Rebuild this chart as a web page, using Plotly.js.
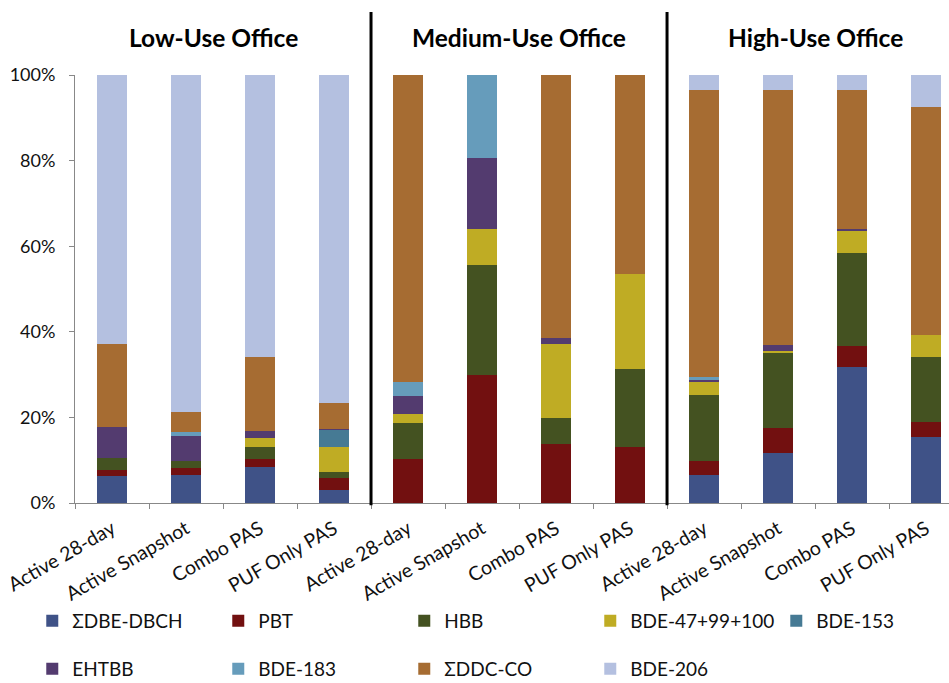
<!DOCTYPE html>
<html>
<head>
<meta charset="utf-8">
<script src="https://cdn.plot.ly/plotly-3.0.1.min.js"></script>
<style>html,body{margin:0;padding:0;overflow:hidden;background:#fff;}</style>
</head>
<body>
<div id="chart" style="width:949px;height:683px;"></div>
<script>
// ---- data ----
const groups = ["Low-Use Office", "Medium-Use Office", "High-Use Office"];
const methods = ["Active 28-day", "Active Snapshot", "Combo PAS", "PUF Only PAS"];

const seriesNames = ["ΣDBE-DBCH", "PBT", "HBB", "BDE-47+99+100", "BDE-153",
                     "EHTBB", "BDE-183", "ΣDDC-CO", "BDE-206"];

// percent of total, 12 bars: Low(4), Medium(4), High(4)
const dbeDbch   = [6.3, 6.5, 8.4, 3.0,   0, 0, 0, 0,          6.5, 11.7, 31.8, 15.4];
const pbt       = [1.4, 1.7, 1.9, 2.8,   10.3, 29.8, 13.8, 13.0, 3.2, 5.9, 4.8, 3.5];
const hbb       = [2.9, 1.5, 2.8, 1.5,   8.5, 25.9, 6.1, 18.3,  15.6, 17.5, 21.9, 15.1];
const bde47     = [0, 0, 2.0, 5.8,       2.1, 8.4, 17.2, 22.1,  3.0, 0.4, 5.1, 5.3];
const bde153    = [0, 0, 0, 4.0,         0, 0, 0, 0,            0, 0, 0, 0];
const ehtbb     = [7.2, 6.0, 1.7, 0.3,   4.0, 16.4, 1.5, 0,     0.4, 1.4, 0.4, 0];
const bde183    = [0, 0.9, 0, 0,         3.4, 19.5, 0, 0,       0.7, 0, 0, 0];
const ddcCo     = [19.3, 4.7, 17.3, 6.0, 71.7, 0, 61.4, 46.6,   67.0, 59.5, 32.4, 53.2];
const bde206    = [62.9, 78.7, 65.9, 76.6, 0, 0, 0, 0,          3.6, 3.6, 3.6, 7.5];

const seriesValues = [dbeDbch, pbt, hbb, bde47, bde153, ehtbb, bde183, ddcCo, bde206];
const colors = ["#3F5287", "#721010", "#445221", "#BFAC24", "#467A94",
                "#533B6F", "#669CBB", "#A66C32", "#B4C0E0"];
// which legend row/block each series is shown in
const legendIds = ["legend", "legend", "legend", "legend", "legend3",
                   "legend2", "legend2", "legend2", "legend2"];

// ---- build ----
const FONT = "Lato, 'Open Sans', sans-serif";
const xKeys = [], xLabels = [];
groups.forEach(g => methods.forEach(m => { xKeys.push(g + "|" + m); xLabels.push(m); }));

const traces = seriesNames.map((name, i) => ({
  type: "bar",
  name: name,
  x: xKeys,
  y: seriesValues[i],
  width: 0.4,
  marker: { color: colors[i], line: { width: 0 } },
  legend: legendIds[i],
  hoverinfo: "name+y"
}));

const nCat = xKeys.length;
const legendCommon = {
  orientation: "h",
  xref: "container", yref: "container",
  x: 0.034, xanchor: "left", yanchor: "middle",
  entrywidth: 141,
  font: { family: FONT, size: 19, color: "#111" },
  bgcolor: "rgba(0,0,0,0)",
  traceorder: "normal"
};

const annotations = groups.map((g, gi) => ({
  text: "<b>" + g + "</b>",
  xref: "x", yref: "paper",
  x: gi * 4 + 1.5 - (gi === 0 ? 0.13 : 0),
  y: (503 - 37) / 428, yanchor: "middle",
  showarrow: false,
  font: { family: FONT, size: 24.5, color: "#000" }
}));

const shapes = [1, 2].map(k => ({
  type: "line", xref: "x", yref: "paper",
  x0: k * 4 - 0.5, x1: k * 4 - 0.5,
  y0: -0.005, y1: 1.147,
  line: { color: "#000", width: 3 }
}));

const layout = {
  width: 949, height: 683,
  margin: { l: 75, r: 0, t: 75, b: 180, pad: 0 },
  paper_bgcolor: "#fff", plot_bgcolor: "#fff",
  barmode: "stack",
  font: { family: FONT, color: "#111" },
  xaxis: {
    type: "category",
    categoryorder: "array", categoryarray: xKeys,
    tickvals: xKeys, ticktext: xLabels,
    range: [-0.5, nCat - 0.69],
    tickson: "boundaries",
    ticks: "outside", ticklen: 5, tickcolor: "#888",
    showline: true, linecolor: "#888", linewidth: 1,
    showgrid: false, zeroline: false,
    tickangle: -30,
    ticklabelstandoff: 6,
    tickfont: { family: FONT, size: 19.5, color: "#111" }
  },
  yaxis: {
    range: [0, 100], dtick: 20, ticksuffix: "%",
    ticks: "outside", ticklen: 5, tickcolor: "#888",
    showline: true, linecolor: "#888", linewidth: 1,
    showgrid: false, zeroline: false,
    ticklabelstandoff: 10,
    tickfont: { family: FONT, size: 18, color: "#111" }
  },
  legend: Object.assign({}, legendCommon, { y: 1 - 621 / 683 }),
  legend2: Object.assign({}, legendCommon, { y: 1 - 669 / 683 }),
  legend3: Object.assign({}, legendCommon, { x: 0.818, y: 1 - 621 / 683, entrywidth: undefined }),
  annotations: annotations,
  shapes: shapes,
  bargap: 0.6
};

Plotly.newPlot("chart", traces, layout, { displayModeBar: false, responsive: false });
</script>
</body>
</html>
